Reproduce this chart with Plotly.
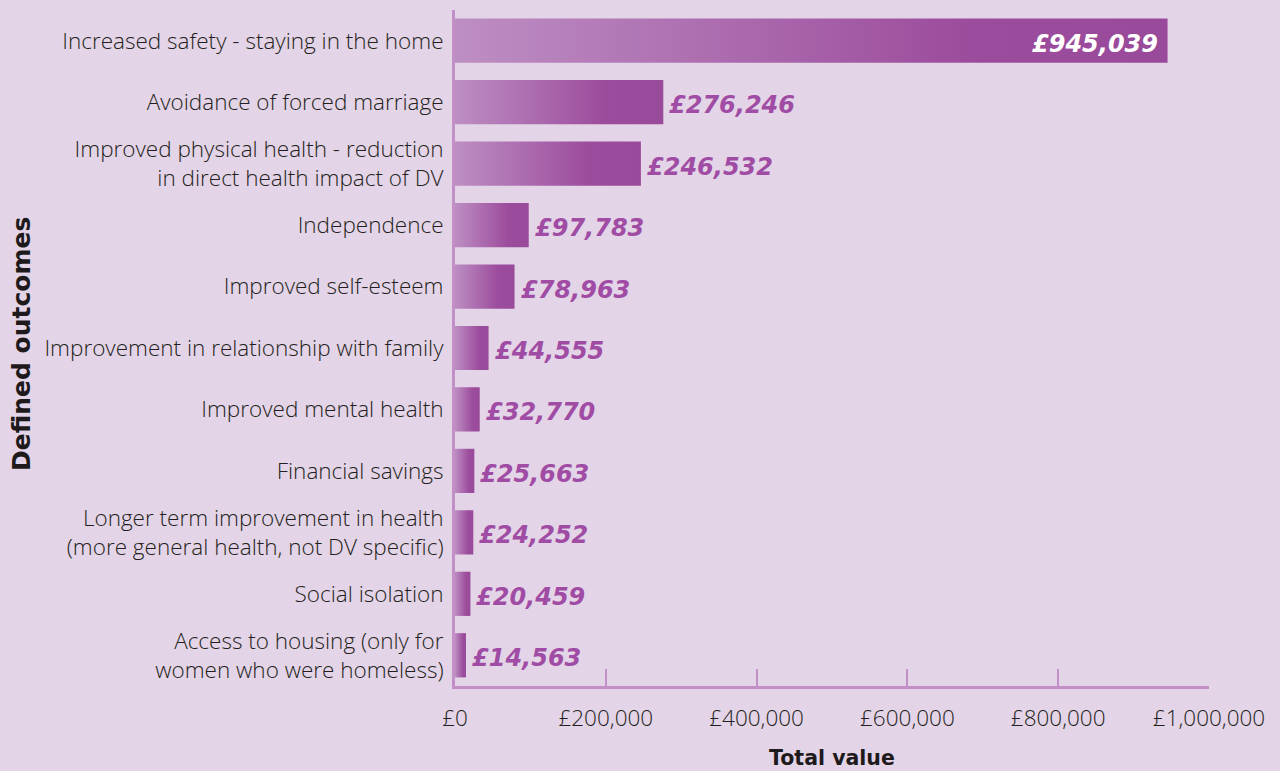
import plotly.graph_objects as go

categories = [
    "Increased safety - staying in the home",
    "Avoidance of forced marriage",
    "Improved physical health - reduction<br>in direct health impact of DV",
    "Independence",
    "Improved self-esteem",
    "Improvement in relationship with family",
    "Improved mental health",
    "Financial savings",
    "Longer term improvement in health<br>(more general health, not DV specific)",
    "Social isolation",
    "Access to housing (only for<br>women who were homeless)",
]
values = [945039, 276246, 246532, 97783, 78963, 44555, 32770, 25663, 24252, 20459, 14563]
tick_vals = [0, 200000, 400000, 600000, 800000, 1000000]
tick_text = ["£0", "£200,000", "£400,000", "£600,000", "£800,000", "£1,000,000"]

BG = "#E3D4E7"
AXIS = "#C28FC6"
PURPLE = "#A04CA4"
DARK = "#231F20"
half = 0.36

fig = go.Figure()
for i, v in enumerate(values):
    fig.add_trace(go.Scatter(
        x=[0, v, v, 0, 0],
        y=[i - half, i - half, i + half, i + half, i - half],
        mode="lines", line=dict(width=0), fill="toself",
        fillgradient=dict(type="horizontal",
                          colorscale=[[0, "#BD8EC3"], [0.72, "#9C4C9C"], [1, "#9A4A9A"]]),
        hoverinfo="skip", showlegend=False,
    ))

annotations = []
for i, v in enumerate(values):
    label = "£{:,}".format(v)
    inside = i == 0
    annotations.append(dict(
        x=v, y=i, xref="x", yref="y", text="<b><i>" + label + "</i></b>",
        showarrow=False, xanchor="right" if inside else "left", xshift=-8 if inside else 4,
        yshift=-3,
        font=dict(family="DejaVu Sans", size=24, color="white" if inside else PURPLE)))

annotations.append(dict(x=-0.596, y=0.506, xref="paper", yref="paper", text="<b>Defined outcomes</b>",
                        textangle=-90, showarrow=False,
                        font=dict(family="DejaVu Sans", size=25, color="#1E1A1B")))
annotations.append(dict(x=0.5, y=-0.1065, xref="paper", yref="paper", text="<b>Total value</b>",
                        showarrow=False, yanchor="middle",
                        font=dict(family="DejaVu Sans", size=20.5, color="#1E1A1B")))

fig.update_layout(
    width=1280, height=771,
    paper_bgcolor=BG, plot_bgcolor=BG,
    margin=dict(l=455, r=71, t=10, b=85),
    annotations=annotations,
    xaxis=dict(range=[0, 1000000], tickvals=tick_vals, ticktext=tick_text,
               showgrid=False, zeroline=False, showline=True, linecolor=AXIS, linewidth=3,
               ticks="inside", ticklen=17, tickwidth=2, tickcolor=AXIS,
               ticklabelstandoff=10,
               tickfont=dict(family="Open Sans", size=22.5, color=DARK, weight=300)),
    yaxis=dict(range=[10.5, -0.5], tickvals=list(range(len(categories))), ticktext=categories,
               showgrid=False, zeroline=False, showline=True, linecolor=AXIS, linewidth=3,
               ticks="", ticklabelstandoff=4,
               tickfont=dict(family="Open Sans", size=22.5, color=DARK, weight=300)),
)

fig.write_html("out.html", config={"displayModeBar": False},
               post_script="document.body.style.margin='0';document.body.style.overflow='hidden';")
